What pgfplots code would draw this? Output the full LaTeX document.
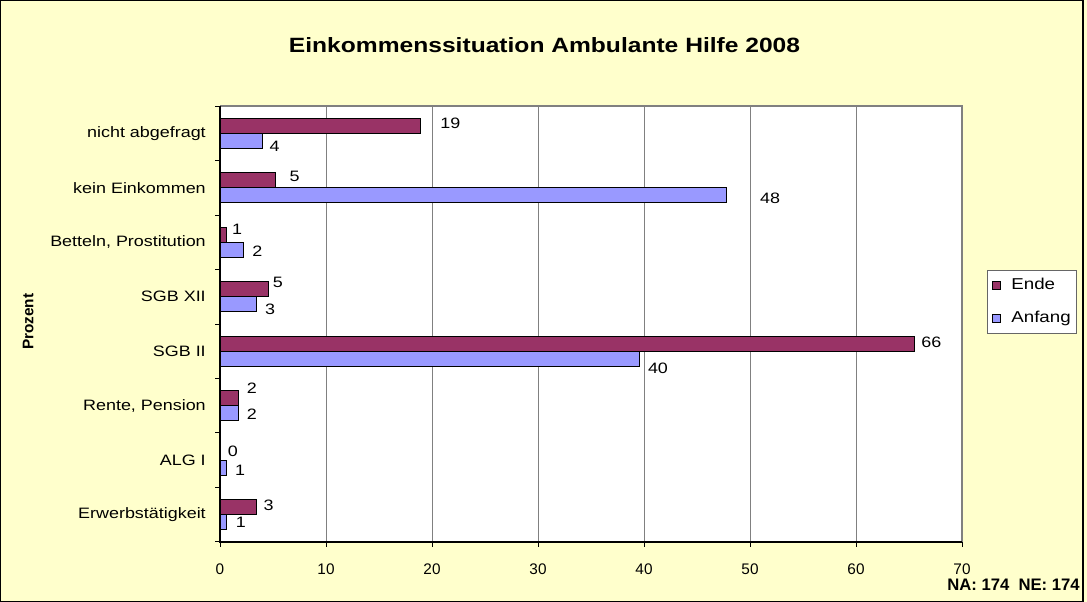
\documentclass[border=0pt]{standalone}
\usepackage{fontspec}
\setmainfont{Liberation Sans}[FakeStretch=1.19]
\newfontfamily\plainsans{Liberation Sans}
\usepackage{pgfplots}
\usepackage{pgfplotstable}
\pgfplotsset{compat=1.18}
\definecolor{bgyellow}{HTML}{FFFFCC}
\definecolor{endec}{HTML}{993366}
\definecolor{anfangc}{HTML}{9999FF}
\definecolor{gridgray}{HTML}{808080}

\pgfplotstableread{
y x lab dx dy
7 18.9 19 14.7 2.0
6 5.2 5 10.5 2.9
5 0.6 1 4.0 3.75
4 4.6 5 2.8 5.25
3 65.5 66 5.0 0.75
2 1.7 2 6.2 7.5
1 0 0 5.5 1.2
0 3.4 3 5.25 1.5
}\tabEnde

\pgfplotstableread{
y x lab dx dy
7 4.0 4 5.0 -4.0
6 47.8 48 24.75 -2.25
5 2.2 2 6.5 -1.0
4 3.4 3 6.5 -3.75
3 39.6 40 5.8 -7.5
2 1.7 2 6.2 -0.75
1 0.6 1 6.2 -2.25
0 0.6 1 6.75 0
}\tabAnfang

\begin{document}
\begin{tikzpicture}
\fill[bgyellow] (0,0) rectangle (815.25pt,451.5pt);
\draw[black, line width=1pt] (0.6pt,0.6pt) rectangle (812.2pt,450.9pt);
\useasboundingbox (0,0) rectangle (815.25pt,451.5pt);
\begin{axis}[
  at={(165pt,45pt)}, anchor=south west,
  width=556.5pt, height=327pt, scale only axis,
  xbar, bar width=11.25pt,
  xmin=0, xmax=70, ymin=-0.5, ymax=7.5,
  xtick={0,10,...,70},
  ytick={0,...,7},
  yticklabels={Erwerbstätigkeit, ALG I, {Rente, Pension}, SGB II, SGB XII, {Betteln, Prostitution}, kein Einkommen, nicht abgefragt},
  minor ytick={-0.5,0.5,...,7.5},
  major y tick style={draw=none},
  minor y tick style={black, line width=0.75pt},
  major x tick style={black, line width=0.75pt},
  tick align=outside, tick pos=left,
  major tick length=3.75pt, minor tick length=3.75pt,
  xmajorgrids, major x grid style={gridgray, line width=0.75pt},
  axis line style={draw=none},
  axis background/.style={fill=white},
  /pgf/number format/assume math mode=true,
  xticklabel style={font=\plainsans\fontsize{11.5}{13}\selectfont, anchor=base, inner sep=0pt, yshift=-20.5pt},
  yticklabel style={font=\fontsize{11.3}{13}\selectfont, anchor=east, inner sep=0pt, xshift=-6.75pt},
  legend style={at={(1.0333,0.6239)}, anchor=north west, draw=black!60, fill=white,
    font=\fontsize{11.8}{13}\selectfont, inner xsep=4pt, inner ysep=5.5pt, row sep=13.25pt, column sep=5pt,
    nodes={inner sep=0pt, text height=9pt, text depth=2.5pt}},
  legend cell align=left,
  legend image code/.code={\draw[#1, draw=black, line width=0.6pt] (0pt,-3pt) rectangle (6pt,3pt); \path[draw=none, fill=none] (9pt,0pt);},
  after end axis/.code={
    \draw[gridgray, line width=1.2pt] (rel axis cs:0,1) -- (rel axis cs:1,1) -- (rel axis cs:1,0);
    \draw[black, line width=0.9pt] (rel axis cs:0,1) -- (rel axis cs:0,0) -- (rel axis cs:1,0);
  },
]
\addplot[fill=endec, draw=black, line width=0.75pt, bar shift=5.625pt,
  nodes near coords, point meta=explicit symbolic,
  visualization depends on={\thisrow{dx} \as \dx},
  visualization depends on={\thisrow{dy} \as \dy},
  every node near coord/.append style={anchor=west, inner sep=0pt, xshift=\dx*1pt, yshift=\dy*1pt, text=black, font=\fontsize{11.3}{13}\selectfont}
] table[x=x, y=y, meta=lab] {\tabEnde};
\addlegendentry{Ende}
\addplot[fill=anfangc, draw=black, line width=0.75pt, bar shift=-5.625pt,
  nodes near coords, point meta=explicit symbolic,
  visualization depends on={\thisrow{dx} \as \dx},
  visualization depends on={\thisrow{dy} \as \dy},
  every node near coord/.append style={anchor=west, inner sep=0pt, xshift=\dx*1pt, yshift=\dy*1pt, text=black, font=\fontsize{11.3}{13}\selectfont}
] table[x=x, y=y, meta=lab] {\tabAnfang};
\addlegendentry{Anfang}
\end{axis}
\node[font=\bfseries\fontsize{15.5}{18}\selectfont, anchor=base, inner sep=0pt] at (408.4pt,412.3pt) {Einkommenssituation Ambulante Hilfe 2008};
\node[rotate=90, font=\plainsans\bfseries\fontsize{11.5}{13}\selectfont, inner sep=0pt] at (21.2pt,210.2pt) {Prozent};
\node[anchor=base east, font=\plainsans\bfseries\fontsize{12.5}{14}\selectfont, inner sep=0pt] at (810pt,8.4pt) {NA: 174\ \ NE: 174};
\end{tikzpicture}
\end{document}
